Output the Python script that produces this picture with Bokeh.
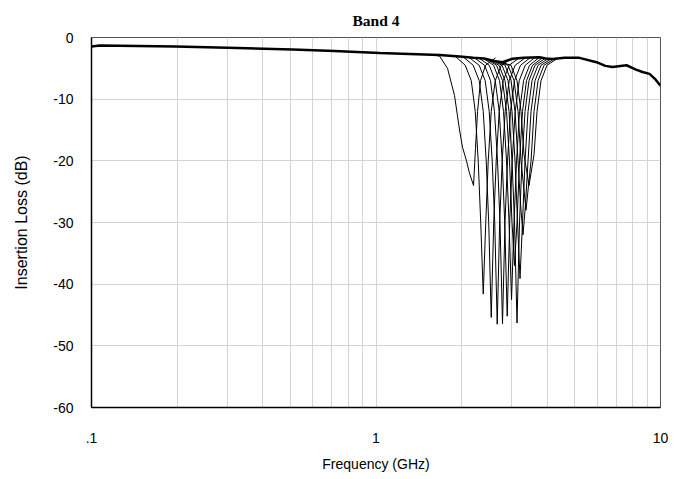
from bokeh.plotting import figure
from bokeh.models import FixedTicker, Range1d
from bokeh.embed import file_html
from bokeh.resources import INLINE

# Common trace (the overlapping part of all sweeps), GHz / dB
baseline_ghz = [0.1, 0.107, 0.197, 0.301, 0.509, 0.715, 1.03, 1.672, 1.966, 2.2, 2.4, 2.6,
                2.784, 3.018, 3.3, 3.756, 3.95, 4.173, 4.6, 5.191, 5.957, 6.4, 6.782, 7.595,
                8.2, 8.645, 9.149, 9.6, 10.0]
baseline_db = [-1.45, -1.3, -1.45, -1.65, -1.95, -2.2, -2.5, -2.85, -3.1, -3.3, -3.4, -3.8,
               -4.0, -3.45, -3.3, -3.2, -3.4, -3.5, -3.3, -3.3, -4.0, -4.6, -4.8, -4.5,
               -5.2, -5.6, -5.9, -6.8, -7.8]

# Notch sweeps, one list per tuning state
notch1_ghz = [1.542, 1.672, 1.784, 1.888, 1.966, 2.014, 2.080, 2.131, 2.202, 2.237, 2.275, 2.330, 2.426, 2.630]
notch1_db = [-2.8, -3.0, -5.0, -9.4, -15.0, -17.8, -20.0, -22.0, -24.0, -18.0, -12.0, -7.0, -4.5, -3.3]

notch2_ghz = [1.899, 2.059, 2.162, 2.233, 2.287, 2.334, 2.382, 2.431, 2.480, 2.541, 2.625, 2.756, 2.988]
notch2_db = [-3.05, -4.5, -7, -12, -20, -30, -41.6, -30, -20, -12, -7, -4.5, -3.45]

notch3_ghz = [2.026, 2.196, 2.306, 2.382, 2.440, 2.490, 2.541, 2.593, 2.646, 2.711, 2.800, 2.939, 3.187]
notch3_db = [-3.15, -4.5, -7, -12, -20, -30, -45.4, -30, -20, -12, -7, -4.5, -3.3]

notch4_ghz = [2.126, 2.305, 2.420, 2.500, 2.561, 2.614, 2.667, 2.721, 2.777, 2.845, 2.939, 3.085, 3.345]
notch4_db = [-3.25, -4.5, -7, -12, -20, -30, -46.5, -30, -20, -12, -7, -4.5, -3.3]

notch5_ghz = [2.219, 2.407, 2.527, 2.609, 2.674, 2.728, 2.784, 2.841, 2.899, 2.970, 3.068, 3.221, 3.492]
notch5_db = [-3.3, -4.5, -7, -12, -20, -30, -46.4, -30, -20, -12, -7, -4.5, -3.25]

notch6_ghz = [2.306, 2.500, 2.625, 2.711, 2.777, 2.834, 2.892, 2.951, 3.011, 3.086, 3.187, 3.346, 3.627]
notch6_db = [-3.35, -4.5, -7, -12, -20, -30, -45.2, -30, -20, -12, -7, -4.5, -3.2]

notch7_ghz = [2.388, 2.589, 2.718, 2.807, 2.876, 2.935, 2.995, 3.056, 3.119, 3.195, 3.301, 3.465, 3.757]
notch7_db = [-3.4, -4.5, -7, -12, -20, -30, -42.5, -30, -20, -12, -7, -4.5, -3.2]

notch8_ghz = [2.446, 2.652, 2.784, 2.876, 2.946, 3.007, 3.068, 3.131, 3.195, 3.273, 3.381, 3.549, 3.848]
notch8_db = [-3.5, -4.5, -7, -12, -20, -30, -37.0, -30, -20, -12, -7, -4.5, -3.3]

notch9_ghz = [2.496, 2.706, 2.841, 2.935, 3.007, 3.068, 3.131, 3.195, 3.260, 3.341, 3.450, 3.622, 3.927]
notch9_db = [-3.6, -4.5, -7, -12, -20, -30, -46.3, -30, -20, -12, -7, -4.5, -3.4]

notch10_ghz = [2.557, 2.773, 2.911, 3.007, 3.081, 3.144, 3.208, 3.273, 3.341, 3.423, 3.535, 3.711, 4.024]
notch10_db = [-3.7, -4.5, -7, -12, -20, -30, -39.1, -30, -20, -12, -7, -4.5, -3.45]

notch11_ghz = [2.620, 2.841, 2.983, 3.081, 3.157, 3.221, 3.287, 3.354, 3.423, 3.507, 3.622, 3.802, 4.123]
notch11_db = [-3.8, -4.5, -7, -12, -20, -27, -32.0, -27, -20, -12, -7, -4.5, -3.5]

notch12_ghz = [2.685, 2.911, 3.057, 3.157, 3.234, 3.368, 3.507, 3.593, 3.712, 3.896, 4.225]
notch12_db = [-3.9, -4.5, -7, -12, -20, -28.0, -20, -12, -7, -4.5, -3.5]

notch13_ghz = [2.750, 2.982, 3.131, 3.234, 3.313, 3.450, 3.593, 3.681, 3.802, 3.991, 4.327]
notch13_db = [-4.0, -4.5, -7, -12, -19, -24.0, -19, -12, -7, -4.5, -3.45]

notches = [
    (notch1_ghz, notch1_db), (notch2_ghz, notch2_db), (notch3_ghz, notch3_db),
    (notch4_ghz, notch4_db), (notch5_ghz, notch5_db), (notch6_ghz, notch6_db),
    (notch7_ghz, notch7_db), (notch8_ghz, notch8_db), (notch9_ghz, notch9_db),
    (notch10_ghz, notch10_db), (notch11_ghz, notch11_db), (notch12_ghz, notch12_db),
    (notch13_ghz, notch13_db),
]

x_ticks = [0.1, 1, 10]
x_tick_labels = {0.1: ".1", 1: "1", 10: "10"}
x_grid = [0.2, 0.3, 0.4, 0.5, 0.6, 0.7, 0.8, 0.9, 1, 2, 3, 4, 5, 6, 7, 8, 9]
y_ticks = [-60, -50, -40, -30, -20, -10, 0]
y_tick_labels = {-60: "-60", -50: "-50", -40: "-40", -30: "-30", -20: "-20", -10: "-10", 0: "0"}

p = figure(
    x_axis_type="log",
    x_range=Range1d(0.1, 10), y_range=Range1d(-60, 0),
    frame_width=569, frame_height=370,
    min_border_left=91, min_border_right=10, min_border_top=36, min_border_bottom=54,
    output_backend="svg", toolbar_location=None,
    background_fill_color="white", border_fill_color="white",
)

p.title.text = "Band 4"
p.title.align = "center"
p.title.text_font = "Liberation Serif"
p.title.text_font_size = "15.5px"
p.title.text_font_style = "bold"
p.title.text_color = "black"
p.title.standoff = 18

p.outline_line_color = "#555555"
p.outline_line_width = 1

p.xgrid.ticker = FixedTicker(ticks=x_grid)
p.ygrid.ticker = FixedTicker(ticks=y_ticks)
for g in (p.xgrid, p.ygrid):
    g.grid_line_color = "#d4d4d4"
    g.grid_line_width = 1

p.xaxis.ticker = FixedTicker(ticks=x_ticks)
p.xaxis.major_label_overrides = x_tick_labels
p.yaxis.ticker = FixedTicker(ticks=y_ticks)
p.yaxis.major_label_overrides = y_tick_labels

for ax in (p.xaxis, p.yaxis):
    ax.axis_line_color = "black"
    ax.axis_line_width = 1.5
    ax.major_tick_line_color = None
    ax.minor_tick_line_color = None
    ax.major_tick_out = 0
    ax.major_tick_in = 0
    ax.minor_tick_out = 0
    ax.minor_tick_in = 0
    ax.major_label_text_font = "Liberation Sans"
    ax.major_label_text_font_size = "14px"
    ax.major_label_text_color = "black"
    ax.axis_label_text_font = "Liberation Sans"
    ax.axis_label_text_font_style = "normal"
    ax.axis_label_text_color = "black"

p.xaxis.axis_label = "Frequency (GHz)"
p.yaxis.axis_label = "Insertion Loss (dB)"
p.xaxis.axis_label_text_font_size = "14px"
p.yaxis.axis_label_text_font_size = "16px"
p.xaxis.major_label_standoff = 25
p.xaxis.axis_label_standoff = 10
p.yaxis.major_label_standoff = 18
p.yaxis.axis_label_standoff = 20

p.line(baseline_ghz, baseline_db, line_color="black", line_width=2.5)
for fx, fy in notches:
    p.line(fx, fy, line_color="black", line_width=1)

open("out.html", "w").write(file_html(p, INLINE))
